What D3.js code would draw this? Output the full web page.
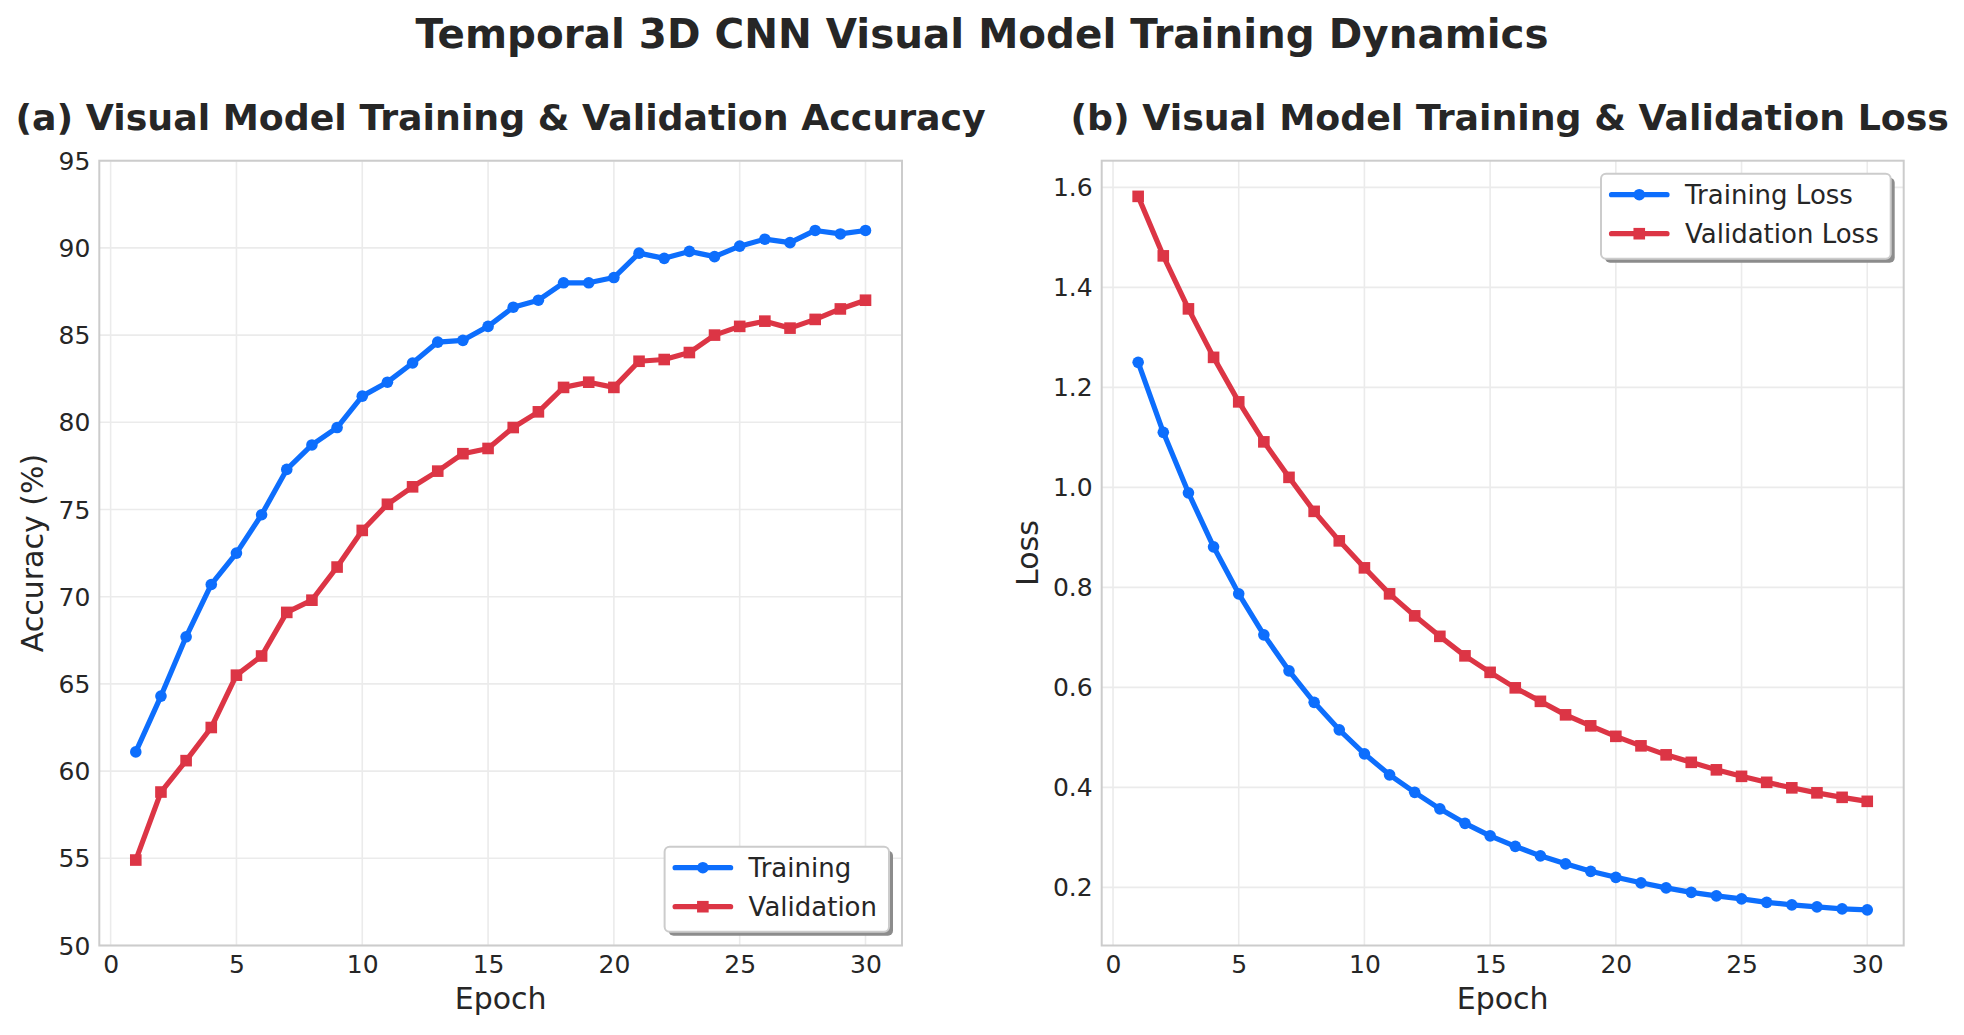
<!DOCTYPE html>
<html>
<head>
<meta charset="utf-8">
<script src="https://cdn.jsdelivr.net/npm/d3@7"></script>
<style>
  body { margin: 0; background: #fff; }
  svg { display: block; font-family: "DejaVu Sans", sans-serif; }
</style>
</head>
<body>
<svg id="chart" width="1964" height="1035"></svg>
<script>
// Data.
const epochs = [1, 2, 3, 4, 5, 6, 7, 8, 9, 10, 11, 12, 13, 14, 15,
  16, 17, 18, 19, 20, 21, 22, 23, 24, 25, 26, 27, 28, 29, 30];

const trainAcc = [61.1, 64.3, 67.7, 70.7, 72.5, 74.7, 77.3, 78.7, 79.7, 81.5,
  82.3, 83.4, 84.6, 84.7, 85.5, 86.6, 87.0, 88.0, 88.0, 88.3,
  89.7, 89.4, 89.8, 89.5, 90.1, 90.5, 90.3, 91.0, 90.8, 91.0];
const valAcc = [54.9, 58.8, 60.6, 62.5, 65.5, 66.6, 69.1, 69.8, 71.7, 73.8,
  75.3, 76.3, 77.2, 78.2, 78.5, 79.7, 80.6, 82.0, 82.3, 82.0,
  83.5, 83.6, 84.0, 85.0, 85.5, 85.8, 85.4, 85.9, 86.5, 87.0];

const trainLoss = [1.250, 1.110, 0.989, 0.881, 0.787, 0.705, 0.633, 0.570, 0.515, 0.467,
  0.425, 0.390, 0.357, 0.328, 0.303, 0.282, 0.263, 0.247, 0.232, 0.220,
  0.209, 0.199, 0.190, 0.183, 0.177, 0.170, 0.165, 0.161, 0.157, 0.155];
const valLoss = [1.582, 1.463, 1.357, 1.260, 1.171, 1.091, 1.020, 0.952, 0.893, 0.839,
  0.787, 0.743, 0.702, 0.663, 0.630, 0.599, 0.572, 0.545, 0.523, 0.502,
  0.483, 0.465, 0.450, 0.435, 0.422, 0.410, 0.399, 0.389, 0.380, 0.372];

const epochTicks = [0, 5, 10, 15, 20, 25, 30];
const accTicks = [50, 55, 60, 65, 70, 75, 80, 85, 90, 95];
const lossTicks = [0.2, 0.4, 0.6, 0.8, 1.0, 1.2, 1.4, 1.6];

const BLUE = '#0d6efd';
const RED = '#dc3545';
const TEXT = '#262626';
const SPINE = '#cccccc';
const GRID = '#ebebeb';

const LEGEND_FONT = 26;
const LABEL_FONT = 30;

const svg = d3.select('#chart');

svg.append('text')
  .attr('x', 982)
  .attr('y', 48)
  .attr('text-anchor', 'middle')
  .attr('font-size', 40.4)
  .attr('font-weight', 'bold')
  .attr('fill', TEXT)
  .text('Temporal 3D CNN Visual Model Training Dynamics');

/**
 * Draws one subplot: grid, spines, two series, ticks, labels and legend.
 * @param {object} p Panel settings.
 */
function drawPanel(p) {
  const {left, right, top, bottom} = p;
  const g = svg.append('g');

  // Epoch axis keeps matplotlib's 5% margin on both sides.
  const pad = (d3.max(epochs) - d3.min(epochs)) * 0.05;
  const x = d3.scaleLinear()
    .domain([d3.min(epochs) - pad, d3.max(epochs) + pad])
    .range([left, right]);
  const y = d3.scaleLinear().domain(p.yDomain).range([bottom, top]);

  // Grid lines.
  g.append('g')
    .selectAll('line')
    .data(epochTicks)
    .join('line')
    .attr('x1', (d) => x(d)).attr('x2', (d) => x(d))
    .attr('y1', top).attr('y2', bottom)
    .attr('stroke', GRID).attr('stroke-width', 1.6);
  g.append('g')
    .selectAll('line')
    .data(p.yTicks)
    .join('line')
    .attr('x1', left).attr('x2', right)
    .attr('y1', (d) => y(d)).attr('y2', (d) => y(d))
    .attr('stroke', GRID).attr('stroke-width', 1.6);

  // Spines.
  g.append('rect')
    .attr('x', left).attr('y', top)
    .attr('width', right - left).attr('height', bottom - top)
    .attr('fill', 'none')
    .attr('stroke', SPINE)
    .attr('stroke-width', 2);

  // Axes via d3, with the domain line and tick marks hidden.
  const xAxis = g.append('g')
    .attr('transform', `translate(0,${bottom})`)
    .call(d3.axisBottom(x).tickValues(epochTicks).tickSize(0).tickPadding(0));
  xAxis.select('.domain').remove();
  xAxis.selectAll('text')
    .attr('dy', null)
    .attr('y', 27)
    .attr('font-size', 25)
    .attr('font-family', 'DejaVu Sans')
    .attr('fill', TEXT);

  const yAxis = g.append('g')
    .attr('transform', `translate(${left},0)`)
    .call(d3.axisLeft(y).tickValues(p.yTicks).tickFormat(p.yFormat)
      .tickSize(0).tickPadding(9));
  yAxis.select('.domain').remove();
  yAxis.selectAll('text')
    .attr('dy', '0.34em')
    .attr('font-size', 25)
    .attr('font-family', 'DejaVu Sans')
    .attr('fill', TEXT);

  // Series.
  const line = (vals) => d3.line()
    .x((d, i) => x(epochs[i]))
    .y((d) => y(d))(vals);

  p.series.forEach((s) => {
    g.append('path')
      .attr('d', line(s.values))
      .attr('fill', 'none')
      .attr('stroke', s.color)
      .attr('stroke-width', 5.2)
      .attr('stroke-linejoin', 'round')
      .attr('stroke-linecap', 'round');
    drawMarkers(g, s, s.values.map((d, i) => [x(epochs[i]), y(d)]));
  });

  // Titles.
  const cx = (left + right) / 2;
  svg.append('text')
    .attr('x', cx + (p.titleShift || 0)).attr('y', 130)
    .attr('text-anchor', 'middle')
    .attr('font-size', 36.3)
    .attr('font-weight', 'bold')
    .attr('fill', TEXT)
    .text(p.title);
  svg.append('text')
    .attr('x', cx).attr('y', 1009)
    .attr('text-anchor', 'middle')
    .attr('font-size', LABEL_FONT)
    .attr('fill', TEXT)
    .text('Epoch');

  const tickW = d3.max(yAxis.selectAll('text').nodes(), (n) => n.getComputedTextLength());
  const labelX = left - 9 - tickW - 8.3 - 7;
  svg.append('text')
    .attr('transform', `translate(${labelX},${(top + bottom) / 2}) rotate(-90)`)
    .attr('text-anchor', 'middle')
    .attr('font-size', LABEL_FONT)
    .attr('fill', TEXT)
    .text(p.yLabel);

  drawLegend(p);
}

/**
 * Circle or square markers along a series.
 */
function drawMarkers(g, s, pts) {
  if (s.marker === 'circle') {
    g.append('g').selectAll('circle')
      .data(pts)
      .join('circle')
      .attr('cx', (d) => d[0]).attr('cy', (d) => d[1])
      .attr('r', 5.8)
      .attr('fill', s.color);
  } else {
    const side = 11.6;
    g.append('g').selectAll('rect')
      .data(pts)
      .join('rect')
      .attr('x', (d) => d[0] - side / 2).attr('y', (d) => d[1] - side / 2)
      .attr('width', side).attr('height', side)
      .attr('fill', s.color);
  }
}

/**
 * Legend box with a drop shadow, placed in a corner of the axes.
 */
function drawLegend(p) {
  const g = svg.append('g');
  const rowGap = 39;
  const h = 85;

  // Measure labels first so the box fits them.
  const probe = g.append('g');
  const widths = p.series.map((s) => {
    const t = probe.append('text').attr('font-size', LEGEND_FONT).text(s.label);
    return t.node().getComputedTextLength();
  });
  probe.remove();
  const w = 84 + d3.max(widths) + 12;

  const bx = p.right - 13 - w;
  const by = p.legendPos === 'lower right' ? p.bottom - 13.8 - h : p.top + 13;

  g.append('rect')
    .attr('x', bx + 4).attr('y', by + 4)
    .attr('width', w).attr('height', h)
    .attr('rx', 5)
    .attr('fill', '#8c8c8c');
  g.append('rect')
    .attr('x', bx).attr('y', by)
    .attr('width', w).attr('height', h)
    .attr('rx', 5)
    .attr('fill', '#fff')
    .attr('stroke', SPINE)
    .attr('stroke-width', 2);

  p.series.forEach((s, i) => {
    const cy = by + 21 + i * rowGap;
    const x0 = bx + 10.5;
    const x1 = bx + 66;
    g.append('line')
      .attr('x1', x0).attr('x2', x1)
      .attr('y1', cy).attr('y2', cy)
      .attr('stroke', s.color)
      .attr('stroke-width', 5.2)
      .attr('stroke-linecap', 'round');
    drawMarkers(g, s, [[(x0 + x1) / 2, cy]]);
    g.append('text')
      .attr('x', bx + 84).attr('y', cy)
      .attr('dy', '0.36em')
      .attr('font-size', LEGEND_FONT)
      .attr('fill', TEXT)
      .text(s.label);
  });
}

drawPanel({
  left: 99.3, right: 902, top: 160.7, bottom: 945.5,
  yDomain: [50, 95],
  yTicks: accTicks,
  yFormat: d3.format('d'),
  yLabel: 'Accuracy (%)',
  title: '(a) Visual Model Training & Validation Accuracy',
  legendPos: 'lower right',
  series: [
    {values: trainAcc, color: BLUE, marker: 'circle', label: 'Training'},
    {values: valAcc, color: RED, marker: 'square', label: 'Validation'},
  ],
});

// Loss axis: data extent plus matplotlib's 5% margin.
const lossMin = d3.min(trainLoss.concat(valLoss));
const lossMax = d3.max(trainLoss.concat(valLoss));
const lossPad = (lossMax - lossMin) * 0.05;

drawPanel({
  left: 1101.7, right: 1903.7, top: 160.7, bottom: 945.5,
  yDomain: [lossMin - lossPad, lossMax + lossPad],
  yTicks: lossTicks,
  yFormat: d3.format('.1f'),
  yLabel: 'Loss',
  title: '(b) Visual Model Training & Validation Loss',
  titleShift: 7,
  legendPos: 'upper right',
  series: [
    {values: trainLoss, color: BLUE, marker: 'circle', label: 'Training Loss'},
    {values: valLoss, color: RED, marker: 'square', label: 'Validation Loss'},
  ],
});
</script>
</body>
</html>
